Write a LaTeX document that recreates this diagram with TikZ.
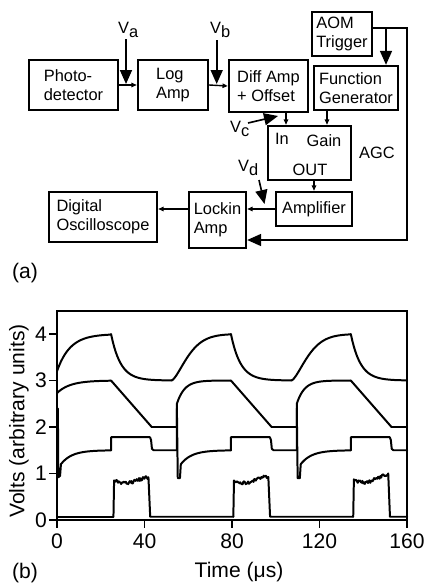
\documentclass[tikz,border=0pt]{standalone}
\usepackage{fontspec}
\setmainfont{Liberation Sans}
\usetikzlibrary{arrows.meta,positioning}

\tikzset{
  blockbox/.style={draw, line width=2pt, align=left, inner sep=2pt, font=\fontsize{14}{16}\selectfont},
  pinlabel/.style={inner sep=0pt, font=\fontsize{14}{16}\selectfont},
  bigarrow/.style={line width=1.4pt, line join=miter, -{Triangle[length=0.42cm, width=0.36cm]}},
  smallarrow/.style={line width=1.2pt, -{Triangle[length=1.6mm, width=1.3mm]}},
  trace/.style={line width=1.7pt, line join=round, line cap=round},
  plottext/.style={inner sep=0pt, font=\fontsize{18}{20}\selectfont},
}

\begin{document}
\begin{tikzpicture}[x=0.03cm, y=-0.03cm]
\useasboundingbox (0,0) rectangle (427,585);

% (a) block diagram
\node[blockbox, minimum width=2.67cm, minimum height=1.5cm] (photo) at (73.5,85) {Photo-\\detector};
\node[blockbox, minimum width=2.1cm, minimum height=1.5cm] (logamp) at (173,85) {Log\\Amp};
\node[blockbox, minimum width=2.37cm, minimum height=1.56cm] (diffamp) at (268.5,86) {Diff Amp\\+ Offset};
\node[blockbox, minimum width=1.8cm, minimum height=1.32cm] (aom) at (342,34) {AOM\\Trigger};
\node[blockbox, minimum width=2.52cm, minimum height=1.32cm] (fgen) at (356,88) {Function\\Generator};
\node[blockbox, minimum width=2.49cm, minimum height=1.62cm] (agc) at (309.5,153) {};
\node[blockbox, minimum width=2.28cm, minimum height=1.02cm] (amp) at (314,209) {Amplifier};
\node[blockbox, minimum width=1.71cm, minimum height=1.68cm] (lockin) at (217.5,220) {Lockin\\Amp};
\node[blockbox, minimum width=3.24cm, minimum height=1.5cm] (dso) at (103,217) {Digital\\Oscilloscope};

% labels inside and beside the AGC
\node[pinlabel] (inlbl) at (282,139) {In};
\node[pinlabel] (gainlbl) at (324,141) {Gain};
\node[pinlabel] (outlbl) at (310,170) {OUT};
\node[pinlabel] (agclbl) at (377,153) {AGC};

% test points
\node[pinlabel, anchor=base west] (vlabela) at (118,33.5) {V\raisebox{-3.5pt}{a}};
\node[pinlabel, anchor=base west] (vlabelb) at (210,33.5) {V\raisebox{-3.5pt}{b}};
\node[pinlabel, anchor=base west] (vlabelc) at (230,132) {V\raisebox{-3.5pt}{c}};
\node[pinlabel, anchor=base west] (vlabeld) at (238,171.5) {V\raisebox{-3.5pt}{d}};

\coordinate (vatop) at (126,39);
\coordinate (vatip) at (126,84);
\coordinate (vbtop) at (216.7,40);
\coordinate (vbtip) at (216.7,84);
\coordinate (vctail) at (248,123);
\coordinate (vctip) at (278,116);
\coordinate (vdtail) at (259,180);
\coordinate (vdtip) at (264.5,204);
\coordinate (inpin) at (286,0);
\coordinate (gainpin) at (327,0);
\coordinate (fbtop) at (407,28);
\coordinate (fbbot) at (407,240);
\coordinate (fbsplit) at (386,28);

\draw[smallarrow] (photo.east) -- (logamp.west);
\draw[smallarrow] (logamp.east) -- (diffamp.west);
\draw[smallarrow] (diffamp.south -| inpin) -- (agc.north -| inpin);
\draw[smallarrow] (fgen.south -| gainpin) -- (agc.north -| gainpin);
\draw[smallarrow] (agc.south -| amp.north) -- (amp.north);
\draw[smallarrow] (amp.west) -- (amp.west -| lockin.east);
\draw[smallarrow] (lockin.west |- amp.west) -- (dso.east |- amp.west);

\draw[bigarrow] (vatop) -- (vatip);
\draw[bigarrow] (vbtop) -- (vbtip);
\draw[bigarrow] (vctail) -- (vctip);
\draw[bigarrow] (vdtail) -- (vdtip);
\draw[bigarrow] (aom.east |- fbtop) -- (fbtop) -- (fbbot) -- (lockin.east |- fbbot);
\draw[bigarrow] (fbsplit) -- (fbsplit |- fgen.north);

\node[plottext] (labela) at (25,273) {(a)};

% (b) traces
\pgfmathsetseed{7}
\begin{scope}[shift={(57,520)}, x=0.065625cm, y=1.395cm]
  \draw[line width=1.8pt] (0,0) rectangle (160,4.5);
  \foreach \v in {0,...,4} {
    \draw[line width=1.5pt] (0,\v) -- ++(-0.24cm,0pt);
    \node[plottext, anchor=east] (ytick\v) at ([xshift=-0.3cm]0,\v) {\v};
  }
  \foreach \tv in {0,40,...,160} {
    \draw[line width=1.5pt] (\tv,0) -- ++(0pt,-0.24cm);
    \node[plottext, anchor=north] (xtick\tv) at ([yshift=-0.42cm]\tv,0) {\tv};
  }

  % top trace, 3 to 4
  \draw[trace] plot[domain=0:24.7, samples=30] (\x, {4-0.8*exp(-\x/6)});
  \foreach \k in {0,1,2} {
    \pgfmathsetmacro\pk{24.7+\k*54.8}
    \pgfmathsetmacro\rk{min(52.4+\k*54.8,160)}
    \draw[trace] plot[domain=\pk:\rk, samples=40] (\x, {3+exp(-(\x-\pk)/4.4)});
  }
  \foreach \k in {0,1} {
    \pgfmathsetmacro\rk{52.4+\k*54.8}
    \pgfmathsetmacro\pn{\rk+27.1}
    \draw[trace] plot[domain=\rk:\pn, samples=40] (\x, {4-exp(-((\x-\rk+0.001)/9.26)^1.47)});
  }

  % second trace, 2 to 3
  \draw[trace] plot[domain=0:24.7, samples=25] (\x, {3-0.27*exp(-\x/6)});
  \foreach \k in {0,1,2} {
    \pgfmathsetmacro\pk{24.7+\k*54.8}
    \pgfmathsetmacro\qk{\pk+18.6}
    \pgfmathsetmacro\sk{min(54.8*(\k+1),160)}
    \draw[trace] (\pk,3) -- (\qk,2) -- (\sk,2);
  }
  \foreach \k in {1,2} {
    \pgfmathsetmacro\sk{54.8*\k}
    \pgfmathsetmacro\pk{24.7+\k*54.8}
    \draw[trace] (\sk,2) -- (\sk,2.5) -- plot[domain=\sk:\pk, samples=40] (\x, {3-0.5*exp(-(\x-\sk)/3.5)});
  }

  % third trace, 1 to 2
  \draw[trace] (0.4,2.4) -- (0.6,0.92) -- (1.4,0.95) -- (1.8,1.2)
    -- plot[domain=1.8:24.7, samples=30] (\x, {1.5-0.3*exp(-(\x-1.8)/5)});
  \foreach \k in {0,1,2} {
    \pgfmathsetmacro\pk{24.7+\k*54.8}
    \pgfmathsetmacro\sk{min(54.8*(\k+1),160)}
    \draw[trace] (\pk,1.5) -- (\pk,1.78) -- (\pk+17.8,1.78) -- (\pk+18.3,1.72)
      -- (\pk+18.7,1.53) -- (\pk+19.5,1.5) -- (\sk,1.5);
  }
  \foreach \k in {1,2} {
    \pgfmathsetmacro\sk{54.8*\k}
    \pgfmathsetmacro\sa{\sk+1.8}
    \pgfmathsetmacro\pk{24.7+\k*54.8}
    \draw[trace] (\sk,1.5) -- (\sk,2.4) -- (\sk+0.4,0.9) -- (\sk+1.4,0.9) -- (\sa,1.2)
      -- plot[domain=\sa:\pk, samples=30] (\x, {1.5-0.3*exp(-(\x-\sa)/5)});
  }

  % bottom trace, 0 to 1
  \draw[trace] (0,0.07) -- (25.8,0.07);
  \foreach \k in {0,1,2} {
    \pgfmathsetmacro\q{25.8+\k*54.8}
    \pgfmathsetmacro\qa{\q+0.3}
    \pgfmathsetmacro\e{\q+16}
    \pgfmathsetmacro\nq{min(\q+54.8,160)}
    \draw[trace] (\q,0.07) -- (\qa,0.85)
      -- plot[domain=\qa:\e, samples=45] (\x, {0.85-0.06*sin(270*(\x-\q)/16)+0.03*\k*(\x-\q)/16+0.035*rand})
      -- (\e+0.8,0.07) -- (\nq,0.07);
  }
\end{scope}

\node[plottext] (xlabel) at (239,572) {Time (μs)};
\node[plottext, rotate=90] (ylabel) at (19,421) {Volts (arbitrary units)};
\node[plottext] (labelb) at (25,573) {(b)};
\end{tikzpicture}
\end{document}
